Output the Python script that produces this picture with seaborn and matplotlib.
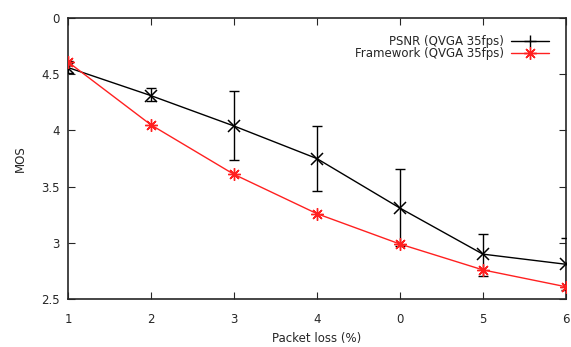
import matplotlib
matplotlib.use("Agg")
import matplotlib.pyplot as plt
import seaborn as sns
import pandas as pd
import numpy as np
from matplotlib.lines import Line2D

# data
x_labels = ["1", "2", "3", "4", "0", "5", "6"]
psnr = [4.56, 4.31, 4.04, 3.75, 3.31, 2.90, 2.81]
psnr_low = [4.51, 4.26, 3.74, 3.46, 2.97, 2.71, 2.58]
psnr_high = [4.62, 4.38, 4.35, 4.04, 3.66, 3.08, 3.04]
framework = [4.61, 4.05, 3.61, 3.26, 2.99, 2.76, 2.61]
y_ticks = [2.5, 3, 3.5, 4, 4.5, 5]
y_tick_labels = ["2.5", "3", "3.5", "4", "4.5", "0"]
psnr_name = "PSNR (QVGA 35fps)"
fw_name = "Framework (QVGA 35fps)"

sns.set_style("ticks")
plt.rcParams['font.family'] = ['DejaVu Sans']

fig = plt.figure(figsize=(5.71, 3.47), dpi=100)
ax = fig.add_axes([0.119, 0.138, 0.872, 0.810])

pos = np.arange(len(x_labels))
df = pd.DataFrame({"pos": pos, "psnr": psnr, "fw": framework})

ax.errorbar(pos, psnr,
            yerr=[np.array(psnr) - np.array(psnr_low), np.array(psnr_high) - np.array(psnr)],
            fmt="none", ecolor="black", elinewidth=1.0, capsize=3.5, capthick=1.0, zorder=3)
sns.lineplot(data=df, x="pos", y="psnr", ax=ax, color="black", lw=1.0,
             marker="x", markersize=8, markeredgewidth=1.1, markeredgecolor="black", zorder=4)
sns.lineplot(data=df, x="pos", y="fw", ax=ax, color="#ff2020", lw=1.0,
             marker=(8, 2, 0), markersize=9, markeredgewidth=1.0, markeredgecolor="#ff2020", zorder=5)

ax.set_xlim(0, 6)
ax.set_ylim(2.5, 5)
ax.set_xticks(pos)
ax.set_xticklabels(x_labels)
ax.set_yticks(y_ticks)
ax.set_yticklabels(y_tick_labels)
ax.tick_params(direction="in", top=True, right=True, length=5, width=0.8,
               labelsize=8.5, pad=6)
ax.tick_params(axis="x", pad=10)
for s in ax.spines.values():
    s.set_linewidth(1.2)
    s.set_visible(True)
ax.set_xlabel("Packet loss (%)", fontsize=8.5, labelpad=4)
ax.set_ylabel("MOS", fontsize=8.5, labelpad=10)

handles = [Line2D([], [], color="black", lw=1.0, marker="+", markersize=9, markeredgewidth=1.0),
           Line2D([], [], color="#ff2020", lw=1.0, marker=(8, 2, 0), markersize=9, markeredgewidth=1.0)]
leg = ax.legend(handles, [psnr_name, fw_name], loc="upper right", frameon=False,
                markerfirst=False, fontsize=8.5, handlelength=3.2, handletextpad=0.6,
                borderaxespad=0.2, labelspacing=-0.1, bbox_to_anchor=(0.98, 0.965))
for t in leg.get_texts():
    t.set_ha("right")

fig.savefig("out.png", dpi=100)
